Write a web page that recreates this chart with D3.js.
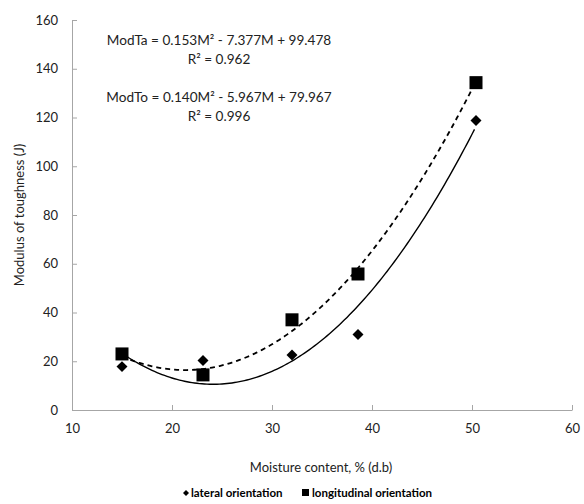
<!DOCTYPE html>
<html>
<head>
<meta charset="utf-8">
<script src="https://cdn.jsdelivr.net/npm/d3@7"></script>
<style>
  body { margin: 0; background: #fff; }
  svg { font-family: Lato, "Open Sans", sans-serif; }
</style>
</head>
<body>
<svg id="chart" width="584" height="504"></svg>
<script>
// moisture content, % d.b.
const moisture = [15, 23.1, 32, 38.6, 50.4];
// modulus of toughness (J)
const lateral = [17.8, 20.3, 22.6, 31, 118.8];
const longitudinal = [23, 14.4, 37, 55.8, 134.3];

// trendline coefficients as printed on the chart [a, b, c] for a*M^2 + b*M + c
const lateralFit = [0.153, -7.377, 99.478];
const longitudinalFit = [0.140, -5.967, 79.967];

const xTicks = [10, 20, 30, 40, 50, 60];
const yTicks = [0, 20, 40, 60, 80, 100, 120, 140, 160];

const svg = d3.select("#chart");

const x = d3.scaleLinear().domain([10, 60]).range([72, 572]);
const y = d3.scaleLinear().domain([0, 160]).range([410, 20]);

const axisColor = "#a6a6a6";

// axes, ticks pointing inside the plot
const xAxis = svg.append("g")
    .attr("transform", "translate(0,410)")
    .call(d3.axisBottom(x).tickValues(xTicks).tickSizeInner(-5).tickSizeOuter(0).tickPadding(14));
const yAxis = svg.append("g")
    .attr("transform", "translate(72,0)")
    .call(d3.axisLeft(y).tickValues(yTicks).tickSizeInner(-5).tickSizeOuter(0).tickPadding(14));

[xAxis, yAxis].forEach(g => {
    g.select(".domain").attr("stroke", axisColor);
    g.selectAll(".tick line").attr("stroke", axisColor);
    g.selectAll(".tick text")
        .attr("fill", "#222")
        .style("font-size", "13px")
        .style("font-family", "Lato, sans-serif");
});

// trendlines
const poly = c => m => c[0] * m * m + c[1] * m + c[2];
const span = d3.range(moisture[0], moisture[moisture.length - 1] + 0.01, 0.25);
const line = f => d3.line()
    .x(m => x(m))
    .y(m => y(f(m)))(span);

svg.append("path")
    .attr("d", line(poly(lateralFit)))
    .attr("fill", "none")
    .attr("stroke", "#000")
    .attr("stroke-width", 1.4);

svg.append("path")
    .attr("d", line(poly(longitudinalFit)))
    .attr("fill", "none")
    .attr("stroke", "#000")
    .attr("stroke-width", 1.8)
    .attr("stroke-dasharray", "5,4");

// markers
const diamond = d3.symbol().type(d3.symbolSquare).size(60);
svg.append("g").selectAll("path")
    .data(moisture.map((m, i) => [m, lateral[i]]))
    .join("path")
    .attr("d", diamond)
    .attr("transform", d => `translate(${x(d[0])},${y(d[1])}) rotate(45)`)
    .attr("fill", "#000");

svg.append("g").selectAll("rect")
    .data(moisture.map((m, i) => [m, longitudinal[i]]))
    .join("rect")
    .attr("x", d => x(d[0]) - 6.5)
    .attr("y", d => y(d[1]) - 6.5)
    .attr("width", 13)
    .attr("height", 13)
    .attr("fill", "#000");

// equations
const eq = svg.append("g")
    .attr("fill", "#222")
    .style("font-size", "13.6px")
    .attr("text-anchor", "middle");

eq.append("text").attr("x", 219).attr("y", 45)
    .text("ModTa = 0.153M² - 7.377M + 99.478");
eq.append("text").attr("x", 219).attr("y", 64)
    .text("R² = 0.962");
eq.append("text").attr("x", 219).attr("y", 102)
    .text("ModTo = 0.140M² - 5.967M + 79.967");
eq.append("text").attr("x", 219).attr("y", 121)
    .text("R² = 0.996");

// axis titles
svg.append("text")
    .attr("x", 321).attr("y", 472)
    .attr("text-anchor", "middle")
    .attr("fill", "#222")
    .style("font-size", "13px")
    .text("Moisture content, % (d.b)");

svg.append("text")
    .attr("transform", "translate(24,215) rotate(-90)")
    .attr("text-anchor", "middle")
    .attr("fill", "#222")
    .style("font-size", "13px")
    .text("Modulus of toughness (J)");

// legend
const legend = svg.append("g")
    .style("font-size", "11.5px")
    .style("font-weight", "bold")
    .attr("fill", "#000");

legend.append("path")
    .attr("d", d3.symbol().type(d3.symbolSquare).size(18))
    .attr("transform", "translate(186,493) rotate(45)");
legend.append("text").attr("x", 191).attr("y", 497)
    .text("lateral orientation");

legend.append("rect")
    .attr("x", 302).attr("y", 489).attr("width", 7).attr("height", 7);
legend.append("text").attr("x", 312).attr("y", 497)
    .text("longitudinal orientation");
</script>
</body>
</html>
